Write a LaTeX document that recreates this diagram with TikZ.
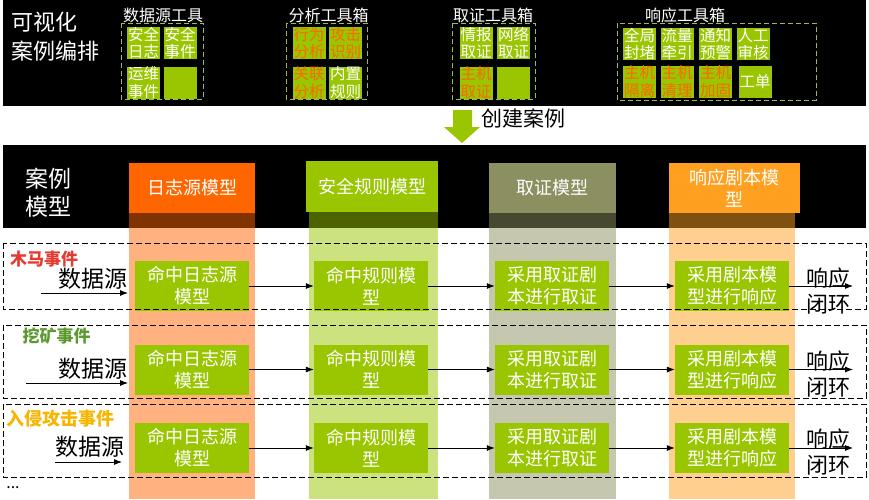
\documentclass[tikz,border=0pt]{standalone}
\usepackage{fontspec}
\setmainfont{Noto Sans CJK SC}
\usetikzlibrary{arrows.meta}
\definecolor{tilegreen}{HTML}{99C600}
\definecolor{hottxt}{HTML}{FF6600}
\definecolor{boxline}{HTML}{9BBB59}
\definecolor{logorange}{HTML}{FF6600}
\definecolor{rulegreen}{HTML}{99C600}
\definecolor{evidolive}{HTML}{8C9060}
\definecolor{playorange}{HTML}{FFA020}
\definecolor{trojanred}{HTML}{E53A2F}
\definecolor{minegreen}{HTML}{5A9A2E}
\definecolor{intrudeyellow}{HTML}{F7B500}
\def\fs#1#2{\fontsize{#1}{#2}\selectfont}

\tikzset{
  tile/.style={fill=tilegreen, minimum width=33pt, minimum height=32pt, inner sep=0pt, align=center, text=white, font=\fs{15.5}{17.5}},
  hottile/.style={tile, text=hottxt},
  toolbox/.style={draw=boxline, dash pattern=on 5pt off 3pt, line width=0.8pt},
  boxtitle/.style={text=white, inner sep=0pt, font=\fs{16}{18}},
  colhead/.style={minimum width=126pt, minimum height=50pt, inner sep=0pt, align=center, text=white, font=\fs{18}{22}},
  procbox/.style={fill=tilegreen, minimum width=114pt, minimum height=50pt, inner sep=0pt, align=center, text=white, font=\fs{18}{22}},
  flow/.style={-{Latex[length=8pt,width=6pt]}, line width=0.8pt},
  eventrow/.style={draw=black, dash pattern=on 6pt off 3pt, line width=0.8pt},
  eventname/.style={font=\bfseries\fs{17}{20}, inner sep=0pt},
  srctext/.style={font=\fs{23}{26}, inner sep=0pt},
  endtext/.style={font=\fs{22}{26}, align=center, inner sep=0pt}
}

\begin{document}
\begin{tikzpicture}[x=1pt, y=-1pt]
		%%%%% BANDS %%%%%
		\useasboundingbox (0, 0) rectangle (869, 499);
		\fill[black] (3, 0) rectangle (866, 106);
		\fill[black] (3, 145) rectangle (866, 228);
		
		%%%%% TOOLS %%%%%
		\node[anchor=west, align=left, text=white, inner sep=0pt, font=\fs{22}{29}] (orch) at (11, 37) {可视化\\案例编排};
		
		\draw[toolbox] (121, 23) rectangle (203, 99);
		\node[boxtitle] (srcbox) at (163, 15) {数据源工具};
		\node[tile] (tSafeLog) at (143.5, 43) {安全\\日志};
		\node[tile] (tSafeEvt) at (180, 43) {安全\\事件};
		\node[tile] (tOpsEvt) at (143.5, 82.5) {运维\\事件};
		\node[tile] (tSrcNil) at (180, 82.5) {};
		
		\draw[toolbox] (286, 23) rectangle (367, 99);
		\node[boxtitle] (anabox) at (328.5, 15) {分析工具箱};
		\node[hottile] (tBehav) at (309, 43) {行为\\分析};
		\node[hottile] (tAttack) at (345.5, 43) {攻击\\识别};
		\node[hottile] (tCorr) at (309, 82.5) {关联\\分析};
		\node[tile] (tRules) at (345.5, 82.5) {内置\\规则};
		
		\draw[toolbox] (452, 23) rectangle (535, 99);
		\node[boxtitle] (evibox) at (493, 15) {取证工具箱};
		\node[tile] (tIntel) at (476, 43) {情报\\取证};
		\node[tile] (tNet) at (513.5, 43) {网络\\取证};
		\node[hottile] (tHost) at (476, 82.5) {主机\\取证};
		\node[tile] (tEviNil) at (513.5, 82.5) {};
		
		\draw[toolbox] (617, 23) rectangle (816, 100);
		\node[boxtitle] (respbox) at (685, 15) {响应工具箱};
		\node[tile] (tBlock) at (639.5, 44) {全局\\封堵};
		\node[tile] (tDivert) at (677, 44) {流量\\牵引};
		\node[tile] (tAlert) at (715.5, 44) {通知\\预警};
		\node[tile] (tReview) at (753, 44) {人工\\审核};
		\node[hottile] (tIsolate) at (639.5, 81.5) {主机\\隔离};
		\node[hottile] (tClean) at (677, 81.5) {主机\\清理};
		\node[hottile] (tHarden) at (715.5, 81.5) {主机\\加固};
		\node[tile] (tTicket) at (755, 81.5) {工单};
		
		%%%%% CREATE %%%%%
		\fill[tilegreen] (453, 110) -- (472, 110) -- (472, 127) -- (480, 127) -- (462, 143) -- (444, 127) -- (453, 127) -- cycle;
		\node[anchor=west, inner sep=0pt, font=\fs{21}{24}] (create) at (481, 118) {创建案例};
		
		%%%%% MODELS %%%%%
		\node[anchor=west, align=left, text=white, inner sep=0pt, font=\fs{23}{28}] (model) at (25, 193) {案例\\模型};
		
		\fill[logorange, fill opacity=0.5] (129, 213) rectangle (255, 499);
		\fill[rulegreen, fill opacity=0.5] (309, 212) rectangle (438, 499);
		\fill[evidolive, fill opacity=0.5] (489, 213) rectangle (616, 499);
		\fill[playorange, fill opacity=0.5] (669, 213) rectangle (795, 499);
		
		\node[colhead, fill=logorange] (hdLog) at (192, 188) {日志源模型};
		\node[colhead, fill=rulegreen, minimum width=132pt, minimum height=51pt] (hdRule) at (372, 186.5) {安全规则模型};
		\node[colhead, fill=evidolive, minimum width=127pt] (hdEvid) at (552.5, 188) {取证模型};
		\node[colhead, fill=playorange, minimum width=131pt] (hdPlay) at (734.5, 188) {响应剧本模\\型};
		
		%%%%% ROW A %%%%%
		\node[eventname, text=trojanred] (evA) at (44, 259) {木马事件};
		\node[srctext] (srcA) at (93, 279) {数据源};
		\coordinate (feedA) at (41, 293);
		\coordinate (inA) at (128, 293);
		\draw[flow] (feedA) -- (inA);
		\node[procbox] (logA) at (192, 286) {命中日志源\\模型};
		\node[procbox] (ruleA) at (371, 286) {命中规则模\\型};
		\node[procbox] (evidA) at (552, 286) {采用取证剧\\本进行取证};
		\node[procbox] (playA) at (732, 286) {采用剧本模\\型进行响应};
		\node[endtext] (doneA) at (828, 291) {响应\\闭环};
		\coordinate (closeA) at (853, 286);
		\draw[flow] (logA) -- (ruleA);
		\draw[flow] (ruleA) -- (evidA);
		\draw[flow] (evidA) -- (playA);
		\draw[flow] (playA) -- (closeA);
		
		%%%%% ROW B %%%%%
		\node[eventname, text=minegreen] (evB) at (56.5, 336.5) {挖矿事件};
		\node[srctext] (srcB) at (92.5, 369) {数据源};
		\coordinate (feedB) at (26, 383);
		\coordinate (inB) at (128, 383);
		\draw[flow] (feedB) -- (inB);
		\node[procbox] (logB) at (192, 369.5) {命中日志源\\模型};
		\node[procbox] (ruleB) at (371, 369.5) {命中规则模\\型};
		\node[procbox] (evidB) at (552, 369.5) {采用取证剧\\本进行取证};
		\node[procbox] (playB) at (732, 369.5) {采用剧本模\\型进行响应};
		\node[endtext] (doneB) at (828, 374.5) {响应\\闭环};
		\coordinate (closeB) at (853, 369.5);
		\draw[flow] (logB) -- (ruleB);
		\draw[flow] (ruleB) -- (evidB);
		\draw[flow] (evidB) -- (playB);
		\draw[flow] (playB) -- (closeB);
		
		%%%%% ROW C %%%%%
		\node[eventname, text=intrudeyellow, font=\bfseries\fs{18}{20}] (evC) at (60.5, 419) {入侵攻击事件};
		\node[srctext] (srcC) at (90, 447) {数据源};
		\coordinate (feedC) at (55, 462);
		\coordinate (inC) at (122, 462);
		\draw[flow] (feedC) -- (inC);
		\node[procbox] (logC) at (192, 448) {命中日志源\\模型};
		\node[procbox] (ruleC) at (371, 448) {命中规则模\\型};
		\node[procbox] (evidC) at (552, 448) {采用取证剧\\本进行取证};
		\node[procbox] (playC) at (732, 448) {采用剧本模\\型进行响应};
		\node[endtext] (doneC) at (828, 452.5) {响应\\闭环};
		\coordinate (closeC) at (853, 448);
		\draw[flow] (logC) -- (ruleC);
		\draw[flow] (ruleC) -- (evidC);
		\draw[flow] (evidC) -- (playC);
		\draw[flow] (playC) -- (closeC);
		
		%%%%% ROWS %%%%%
		\draw[eventrow] (3, 243) rectangle (866, 309);
		\draw[eventrow] (3, 325) rectangle (866, 398);
		\draw[eventrow] (3, 404) rectangle (866, 477);
		
		\node[inner sep=0pt, font=\fs{16}{18}] (more) at (13, 488) {...};
		
		%%%%% END %%%%%
	\end{tikzpicture}
\end{document}
